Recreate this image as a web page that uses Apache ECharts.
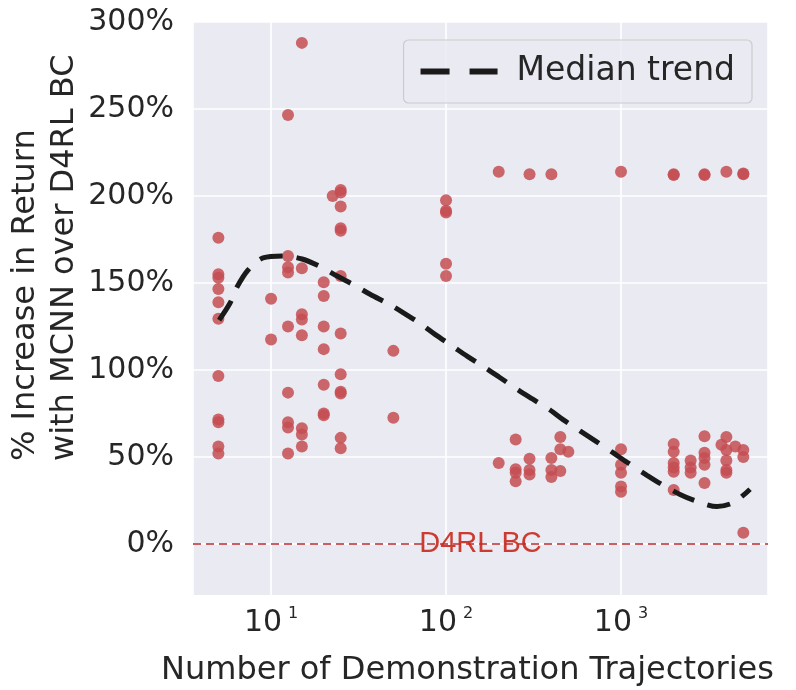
<!DOCTYPE html>
<html>
<head>
<meta charset="utf-8">
<script src="https://cdn.jsdelivr.net/npm/echarts@6/dist/echarts.min.js"></script>
<style>
html,body{margin:0;padding:0;background:#fff;}
#chart{width:796px;height:690px;}
</style>
</head>
<body>
<div id="chart"></div>
<script>
// Scatter: number of demonstration trajectories (x) and % increase (y)
var pointX = [
  5,5,5,5,5,5,5,5,5,5,5,
  10,10,
  12.5,12.5,12.5,12.5,12.5,12.5,12.5,12.5,12.5,
  15,15,15,15,15,15,15,15,
  20,20,20,20,20,20,20,
  22.5,
  25,25,25,25,25,25,25,25,25,25,25,25,
  50,50,
  100,100,100,100,100,
  200,200,
  250,250,250,250,
  300,300,300,300,
  400,400,400,400,
  450,450,450,
  500,
  1000,1000,1000,1000,1000,1000,
  2000,2000,2000,2000,2000,2000,2000,2000,
  2500,2500,2500,
  3000,3000,3000,3000,3000,3000,3000,
  3750,
  4000,4000,4000,4000,4000,4000,
  4500,
  5000,5000,5000,5000,5000
];
var pointY = [
  176,155,153,146.5,139,129.5,96.5,71.5,70,56,52,
  141,117.5,
  246.5,165.5,159,156,125,87,70,67,52,
  288,158.5,132,129,120,66.5,63,56,
  150.5,142.5,125,112,91.5,75,74,
  200,
  203.5,202,194,181.5,180,154,121,97.5,87.5,86.5,61,55,
  111,72.5,
  197.5,191.5,190.5,161,154,
  214,46.5,
  60,43,41,36,
  212.5,49,42.5,40,
  212.5,49.5,42.5,38.5,
  61.5,54.5,42,
  53,
  214,54.5,45.5,41,33,30,
  212,212.5,57.5,53,46.5,44,41.5,31,
  48,44,41,
  212,212.5,62,52.5,49.5,45.5,35,
  57,
  214,61.5,54,48,42.5,41,
  56,
  213,212.5,54,50,6.5
];
// Median trend curve
var trendX = [5.05,5.83,6.39,7.39,9.0,11.87,15.04,19.31,23.84,30.2,36.8,47.9,56.8,72.9,86.5,109.6,131.8,169.3,200.9,254.5,309.9,392.9,466.3,583.1,719.7,900.1,1082,1408,1692,2174,2719,3537,4424,5461];
var trendY = [128.7,138.5,147.7,157.5,164.4,165.5,163.8,159.2,154,148.5,143.5,137.5,133,126,120.5,113.5,108,101,96,89,83.5,77,71.5,65,59,52.5,47,39.5,34.5,28.5,24.5,21.5,24,31.5];
var yTicks = [0,50,100,150,200,250,300];
var baselineY = 0;
var baselineLabel = 'D4RL BC';
var trendName = 'Median trend';

var scatterData = pointX.map(function(x,i){return [x, pointY[i]];});
var trendData = trendX.map(function(x,i){return [x, trendY[i]];});

var TXT = '#262626';
var FONT = 'DejaVu Sans';
var chart = echarts.init(document.getElementById('chart'), null, {renderer:'canvas'});
chart.setOption({
  animation: false,
  backgroundColor: '#ffffff',
  grid: {left:193, right:28, top:22, bottom:95, containLabel:false, outerBoundsMode:'none', show:true, backgroundColor:'#eaeaf2', borderWidth:0},
  legend: {
    data:[{name: trendName}],
    top: 40, right: 44,
    orient: 'horizontal',
    itemWidth: 77, itemHeight: 22,
    itemGap: 0,
    padding: [15, 17, 15, 14],
    backgroundColor: 'rgba(234,234,242,0.8)',
    borderColor: '#cccccc', borderWidth: 1.2, borderRadius: 5,
    lineStyle: {type:[29,20], width:6, color:'#1a1a1a'},
    itemStyle: {opacity: 0, color:'rgba(0,0,0,0)', borderWidth:0},
    textStyle: {fontSize: 33, fontFamily: FONT, color: TXT, padding:[0,0,0,14]}
  },
  xAxis: {
    type: 'log', logBase: 10, min: 3.58, max: 6918,
    axisLine: {show:false}, axisTick: {show:false}, minorTick:{show:false},
    splitLine: {show:true, lineStyle:{color:'#ffffff', width:1.6}},
    minorSplitLine: {show:false},
    axisLabel: {
      margin: 11,
      showMinLabel: false, showMaxLabel: false,
      formatter: function(v){
        var l = Math.log10(v); var e = Math.round(l);
        if (Math.abs(l - e) > 1e-6) return '';
        return '{b|10}{s|' + e + '}';
      },
      rich: {
        b: {fontSize: 30, fontFamily: FONT, color: TXT, lineHeight: 34},
        s: {fontSize: 16, fontFamily: FONT, color: TXT, verticalAlign: 'top', lineHeight: 18, padding:[0,0,0,6]}
      }
    },
    name: 'Number of Demonstration Trajectories',
    nameLocation: 'middle', nameGap: 60,
    nameTextStyle: {fontSize: 32, fontFamily: FONT, color: TXT, padding:[0,26,0,0]}
  },
  yAxis: {
    type: 'value', min: -29.3, max: 300,
    axisLine: {show:false},
    axisTick: {show:false, customValues: yTicks},
    splitLine: {show:true, lineStyle:{color:'#ffffff', width:1.6}},
    axisLabel: {customValues: yTicks, formatter: '{value}%', fontSize: 30, fontFamily: FONT, color: TXT, margin: 19}
  },
  graphic: [{
    type: 'text', x: 45, y: 461, rotation: Math.PI/2,
    style: {text: '% Increase in Return\nwith MCNN over D4RL BC', font: '32px "DejaVu Sans"', fill: TXT, align: 'left', verticalAlign: 'middle', lineHeight: 39}
  }],
  series: [
    {
      type: 'scatter', name: 'points', data: scatterData,
      symbolSize: 12,
      itemStyle: {color: '#c44e52', opacity: 0.85},
      markLine: {
        silent: true, symbol: 'none',
        data: [{yAxis: baselineY}],
        lineStyle: {color:'#c44e52', type:[8,5], width:2, opacity:0.9},
        label: {show:true, position:'middle', formatter: baselineLabel, color:'#c8281c', fontSize:29, fontFamily:'Liberation Sans', verticalAlign:'middle', distance:0}
      },
      z: 2
    },
    {
      type: 'line', name: trendName, data: trendData,
      showSymbol: false, symbol: 'none', smooth: 0.3,
      lineStyle: {color:'#1a1a1a', width:5, type:[23,14]},
      itemStyle: {color:'#1a1a1a'},
      z: 3
    }
  ]
});
</script>
</body>
</html>
